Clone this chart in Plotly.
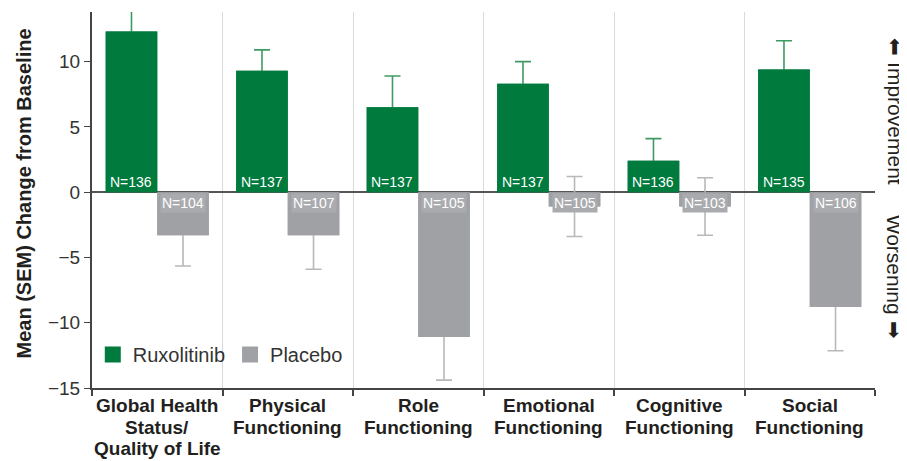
import plotly.graph_objects as go

categories = ["Global Health<br>Status/<br>Quality of Life", "Physical<br>Functioning",
              "Role<br>Functioning", "Emotional<br>Functioning",
              "Cognitive<br>Functioning", "Social<br>Functioning"]
rux_mean = [12.3, 9.3, 6.5, 8.3, 2.4, 9.4]
rux_sem = [1.9, 1.6, 2.4, 1.7, 1.7, 2.2]
rux_n = [136, 137, 137, 137, 136, 135]
pbo_mean = [-3.3, -3.3, -11.1, -1.1, -1.1, -8.8]
pbo_sem = [2.35, 2.6, 3.3, 2.3, 2.2, 3.35]
pbo_n = [104, 107, 105, 105, 103, 106]
y_ticks = [-15, -10, -5, 0, 5, 10]

GREEN = "#007A3D"
GRAY = "#9FA1A4"
TXT = "#231F20"
FONT = "Liberation Sans, Arial, sans-serif"
BARGAP = 0.21

fig = go.Figure()
# bars carrying the (symmetric) SEM error bars
fig.add_bar(x=categories, y=rux_mean, name="Ruxolitinib", marker_color=GREEN,
            marker_line_width=0, showlegend=False, offsetgroup="rux",
            error_y=dict(type="data", array=rux_sem, color="#3E9A64",
                         thickness=1.6, width=8))
fig.add_bar(x=categories, y=pbo_mean, name="Placebo", marker_color=GRAY,
            marker_line_width=0, showlegend=False, offsetgroup="pbo",
            error_y=dict(type="data", array=pbo_sem, color="#B8B8B8",
                         thickness=1.6, width=8))
# same bars drawn again on top, hiding the part of each error bar inside the bar
fig.add_bar(x=categories, y=rux_mean, name="Ruxolitinib", marker_color=GREEN,
            marker_line_width=0, showlegend=False, offsetgroup="rux", hoverinfo="skip")
fig.add_bar(x=categories, y=pbo_mean, name="Placebo", marker_color=GRAY,
            marker_line_width=0, showlegend=False, offsetgroup="pbo", hoverinfo="skip")
# legend entries
fig.add_scatter(x=[None], y=[None], mode="markers", name="Ruxolitinib",
                marker=dict(symbol="square", size=16, color=GREEN))
fig.add_scatter(x=[None], y=[None], mode="markers", name="Placebo",
                marker=dict(symbol="square", size=16, color=GRAY))

off = (1 - BARGAP) / 4
for i in range(len(categories)):
    fig.add_annotation(x=i - off, y=0, xref="x", yref="y", text=f"N={rux_n[i]}",
                       showarrow=False, yanchor="bottom", xanchor="center", yshift=0,
                       font=dict(family=FONT, size=14, color="white"))
    fig.add_annotation(x=i + off, y=0, xref="x", yref="y", text=f"N={pbo_n[i]}",
                       showarrow=False, yanchor="top", xanchor="center", yshift=-1,
                       bgcolor="#A9ABAE", borderpad=1,
                       font=dict(family=FONT, size=14, color="white"))

# category labels, one line at a time for a tight line spacing
LINE_STEP = 21.5
for i, cat in enumerate(categories):
    for j, line in enumerate(cat.split("<br>")):
        fig.add_annotation(x=i, y=0, xref="x", yref="paper", text=f"<b>{line}</b>",
                           showarrow=False, xanchor="center", yanchor="top",
                           yshift=-(6 + j * LINE_STEP), borderpad=0,
                           font=dict(family=FONT, size=19, color=TXT))

# y-axis title
fig.add_annotation(x=-0.087, y=0.517, xref="paper", yref="paper",
                   text="<b>Mean (SEM) Change from Baseline</b>", textangle=-90,
                   showarrow=False, xanchor="center", yanchor="middle",
                   font=dict(family=FONT, size=20, color=TXT))

fig.add_annotation(x=1.026, y=0.735, xref="paper", yref="paper", text="⬅ Improvement",
                   textangle=90, showarrow=False, xanchor="center", yanchor="middle",
                   font=dict(family=FONT, size=21, color=TXT))
fig.add_annotation(x=1.026, y=0.295, xref="paper", yref="paper", text="Worsening ➡",
                   textangle=90, showarrow=False, xanchor="center", yanchor="middle",
                   font=dict(family=FONT, size=21, color=TXT))

# the page body adds an 8 px margin, so the figure is 8 px smaller and margins shifted
fig.update_layout(
    width=899, height=453,
    margin=dict(l=84, r=32, t=4, b=73),
    paper_bgcolor="white", plot_bgcolor="white",
    barmode="group", bargap=BARGAP, bargroupgap=0,
    font=dict(family=FONT, color=TXT),
    legend=dict(orientation="h", x=0.001, y=0.037, xanchor="left", yanchor="bottom",
                bgcolor="rgba(0,0,0,0)", font=dict(size=20, color="#333333"),
                traceorder="normal"),
)
fig.update_xaxes(
    type="category", tickson="boundaries", showgrid=True, gridcolor="#DADADA", gridwidth=1,
    showline=True, linecolor="#444444", linewidth=2, ticks="outside", ticklen=6,
    tickcolor="#444444", tickwidth=1.5, automargin=False, showticklabels=False,
    range=[-0.5, 5.5],
)
fig.update_yaxes(
    range=[-15, 13.8], tickvals=y_ticks, showgrid=False, automargin=False,
    zeroline=True, zerolinecolor="#555555", zerolinewidth=2,
    showline=True, linecolor="#444444", linewidth=2, ticks="outside", ticklen=6,
    tickcolor="#444444", tickfont=dict(family=FONT, size=19, color="#333333"),
)

fig.write_html("out.html")
